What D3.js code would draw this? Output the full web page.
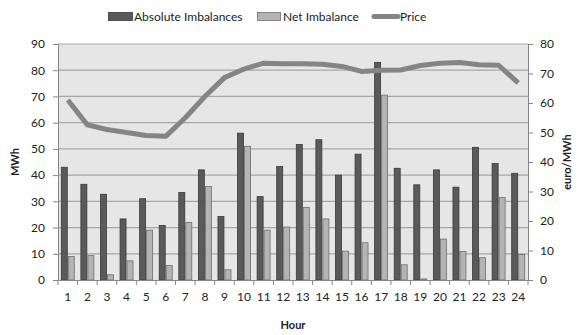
<!DOCTYPE html>
<html>
<head>
<script src="https://d3js.org/d3.v7.min.js"></script>
<style>
  body { margin: 0; background: #fff; }
  text { font-family: Lato, "Liberation Sans", sans-serif; fill: #222; }
</style>
</head>
<body>
<div id="chart"></div>
<script>
// data
var hours = ["1","2","3","4","5","6","7","8","9","10","11","12","13","14","15","16","17","18","19","20","21","22","23","24"];
var absImb = [43, 36.5, 32.7, 23.3, 31, 20.8, 33.4, 42, 24.2, 56, 31.8, 43.3, 51.7, 53.5, 40, 48, 83, 42.6, 36.3, 42, 35.4, 50.6, 44.4, 40.7];
var netImb = [9, 9.3, 2, 7.3, 19, 5.5, 22, 35.7, 3.9, 51, 19, 20.2, 27.7, 23.3, 11, 14.2, 70.5, 5.8, 0.4, 15.6, 10.9, 8.5, 31.5, 9.7];
var price = [61, 52.6, 51, 50, 49, 48.7, 55, 62.2, 68.6, 71.5, 73.5, 73.3, 73.3, 73.1, 72.4, 70.7, 71.1, 71.2, 72.7, 73.5, 73.7, 73, 72.8, 66.8];
var leftTicks = [0,10,20,30,40,50,60,70,80,90];
var rightTicks = [0,10,20,30,40,50,60,70,80];

var W = 578, H = 335;
var margin = {top: 44, right: 50, bottom: 55, left: 58};
var width = W - margin.left - margin.right,
    height = H - margin.top - margin.bottom;

var svg = d3.select("#chart").append("svg")
  .attr("width", W).attr("height", H);
var g = svg.append("g")
  .attr("transform", "translate(" + margin.left + "," + margin.top + ")");

var x = d3.scaleBand().domain(hours).range([0, width]);
var yL = d3.scaleLinear().domain([0, 90]).range([height, 0]);
var yR = d3.scaleLinear().domain([0, 80]).range([height, 0]);

// plot background
g.append("rect").attr("width", width).attr("height", height).attr("fill", "#e6e6e6");

// gridlines
g.selectAll(".grid").data(leftTicks.slice(1)).enter().append("line")
  .attr("x1", 0).attr("x2", width)
  .attr("y1", function(d) { return yL(d); }).attr("y2", function(d) { return yL(d); })
  .attr("stroke", "#a6a6a6").attr("stroke-width", 1.2);

// bars
var bw = 6;
var cats = g.selectAll(".cat").data(hours).enter().append("g")
  .attr("transform", function(d) { return "translate(" + (x(d) + x.bandwidth() / 2) + ",0)"; });
cats.append("rect")
  .attr("x", -bw - 0.5)
  .attr("y", function(d, i) { return yL(absImb[i]); })
  .attr("width", bw)
  .attr("height", function(d, i) { return height - yL(absImb[i]); })
  .attr("fill", "#5a5a5a").attr("stroke", "#3a3a3a").attr("stroke-width", 0.8);
cats.append("rect")
  .attr("x", 0.5)
  .attr("y", function(d, i) { return yL(netImb[i]); })
  .attr("width", bw)
  .attr("height", function(d, i) { return height - yL(netImb[i]); })
  .attr("fill", "#b4b4b4").attr("stroke", "#6e6e6e").attr("stroke-width", 0.8);

// price line
var line = d3.line()
  .x(function(d, i) { return x(hours[i]) + x.bandwidth() / 2; })
  .y(function(d) { return yR(d); });
g.append("path").datum(price)
  .attr("d", line)
  .attr("fill", "none").attr("stroke", "#858585").attr("stroke-width", 5)
  .attr("stroke-linejoin", "round");

// axes
var axL = g.append("g")
  .call(d3.axisLeft(yL).tickValues(leftTicks).tickSize(5).tickPadding(8));
var axR = g.append("g").attr("transform", "translate(" + width + ",0)")
  .call(d3.axisRight(yR).tickValues(rightTicks).tickSize(5).tickPadding(7));
var axB = g.append("g").attr("transform", "translate(0," + height + ")")
  .call(d3.axisBottom(x).tickSize(0).tickPadding(12));
// category boundary ticks
g.selectAll(".bt").data(d3.range(hours.length + 1)).enter().append("line")
  .attr("x1", function(i) { return i * x.step(); }).attr("x2", function(i) { return i * x.step(); })
  .attr("y1", height).attr("y2", height + 5)
  .attr("stroke", "#868686");

[axL, axR, axB].forEach(function(a) {
  a.selectAll("path").attr("stroke", "#868686");
  a.selectAll("line").attr("stroke", "#868686");
  a.selectAll("text").style("font-size", "12px").style("font-family", "Lato, 'Liberation Sans', sans-serif").attr("fill", "#222");
});

// axis titles
svg.append("text").attr("transform", "translate(19," + (margin.top + height / 2) + ") rotate(-90)")
  .attr("text-anchor", "middle").style("font-size", "11px").style("font-weight", "bold").text("MWh");
svg.append("text").attr("transform", "translate(571," + (margin.top + height / 2) + ") rotate(-90)")
  .attr("text-anchor", "middle").style("font-size", "11px").style("font-weight", "bold").text("euro/MWh");
svg.append("text").attr("x", margin.left + width / 2).attr("y", 329)
  .attr("text-anchor", "middle").style("font-size", "11px").style("font-weight", "bold").text("Hour");

// legend
var leg = svg.append("g").style("font-size", "12px");
leg.append("rect").attr("x", 108.5).attr("y", 12.5).attr("width", 24).attr("height", 8)
  .attr("fill", "#5a5a5a").attr("stroke", "#3a3a3a").attr("stroke-width", 0.8);
leg.append("text").attr("x", 134).attr("y", 21).text("Absolute Imbalances");
leg.append("rect").attr("x", 257.5).attr("y", 12.5).attr("width", 23).attr("height", 8)
  .attr("fill", "#b4b4b4").attr("stroke", "#6e6e6e").attr("stroke-width", 0.8);
leg.append("text").attr("x", 283).attr("y", 21).text("Net Imbalance");
leg.append("line").attr("x1", 374).attr("x2", 398).attr("y1", 16.5).attr("y2", 16.5)
  .attr("stroke", "#858585").attr("stroke-width", 5).attr("stroke-linecap", "round");
leg.append("text").attr("x", 400).attr("y", 21).text("Price");
</script>
</body>
</html>
